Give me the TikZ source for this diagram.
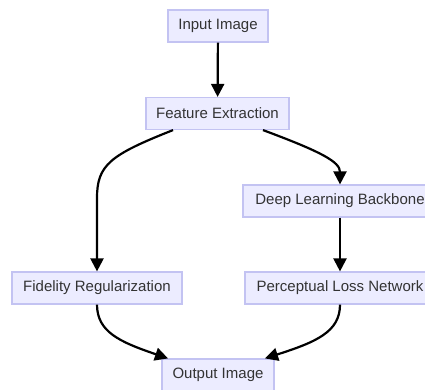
\documentclass[tikz,border=0pt]{standalone}
\usepackage{fontspec}
\setmainfont{Liberation Sans}
\usetikzlibrary{arrows.meta}
\definecolor{boxfill}{RGB}{236,236,255}
\definecolor{boxdraw}{RGB}{195,195,242}
\definecolor{txt}{RGB}{51,51,51}
\tikzset{
  box/.style={draw=boxdraw, fill=boxfill, line width=1.2pt, minimum height=32pt,
    inner sep=0pt, text=txt, font=\fontsize{15}{18}\selectfont},
  conn/.style={draw=black, line width=2.2pt, -{Triangle[width=13pt,length=13pt]}}
}
\begin{document}
\begin{tikzpicture}[x=1pt,y=-1pt]
\useasboundingbox (0,0) rectangle (425,389);
\node[box, minimum width=100pt] (in) at (218,26) {Input Image};
\node[box, minimum width=143pt] (fe) at (217.5,113.5) {Feature Extraction};
\node[box, minimum width=194pt] (dl) at (340,201) {Deep Learning Backbone};
\node[box, minimum width=170pt] (fr) at (97,288) {Fidelity Regularization};
\node[box, minimum width=190pt] (pl) at (340,288) {Perceptual Loss Network};
\node[box, minimum width=112pt] (out) at (218,375) {Output Image};

\draw[conn] (in) -- (fe);
\draw[conn] ([xshift=-44.5pt]fe.south) .. controls (110,155) and (97,165) .. (97,198) -- (fr.north);
\draw[conn] ([xshift=45.5pt]fe.south) .. controls (322,152) and (340,162) .. (dl.north);
\draw[conn] (dl) -- (pl);
\draw[conn] (fr.south) .. controls (97,332) and (120,342) .. ([xshift=-50pt]out.north);
\draw[conn] (pl.south) .. controls (340,332) and (316,342) .. ([xshift=47pt]out.north);
\end{tikzpicture}
\end{document}
